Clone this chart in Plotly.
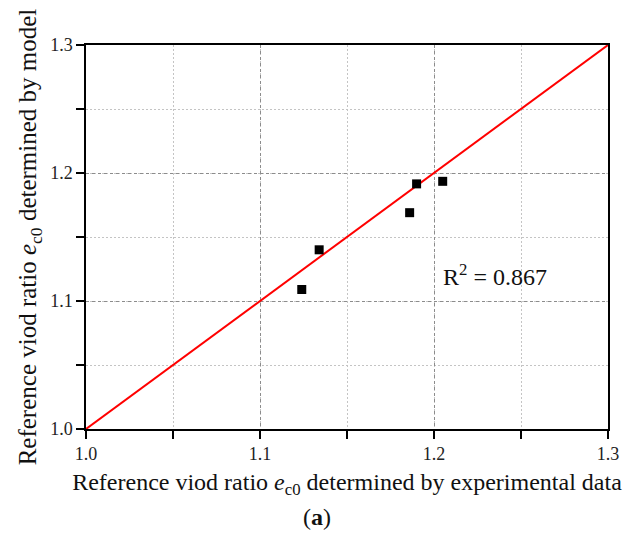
import plotly.graph_objects as go

exp_vals = [1.124, 1.134, 1.186, 1.190, 1.205]
model_vals = [1.109, 1.140, 1.169, 1.1915, 1.1935]
line_x = [1.0, 1.3]
line_y = [1.0, 1.3]
r2_text = "R<sup>2</sup> = 0.867"
tick_vals = [1.0, 1.1, 1.2, 1.3]
tick_text = ["1.0", "1.1", "1.2", "1.3"]

font = "Liberation Serif, Times New Roman, serif"

fig = go.Figure()
fig.add_trace(go.Scatter(x=line_x, y=line_y, mode="lines",
                         line=dict(color="#ff0000", width=2), showlegend=False))
fig.add_trace(go.Scatter(x=exp_vals, y=model_vals, mode="markers",
                         marker=dict(symbol="square", size=9, color="black"),
                         showlegend=False))

axis_common = dict(
    range=[1.0, 1.3], tickvals=tick_vals, ticktext=tick_text,
    showline=True, linecolor="black", linewidth=1.5, mirror=True,
    ticks="outside", ticklen=8, tickwidth=1.5, tickcolor="black",
    showgrid=True, gridcolor="#8c8c8c", gridwidth=1, griddash="3px,3px",
    minor=dict(dtick=0.05, tick0=1.0, showgrid=True, gridcolor="#c4c4c4",
               griddash="2px,2px", ticks="outside", ticklen=8, tickwidth=1.5,
               tickcolor="black"),
    zeroline=False,
    tickfont=dict(family=font, size=18, color="#222"),
)

fig.update_layout(
    width=631, height=540,
    margin=dict(l=86, r=21, t=45, b=111),
    plot_bgcolor="white", paper_bgcolor="white",
    xaxis=dict(**axis_common,
               title=dict(text="Reference viod ratio <i>e</i><sub>c0</sub> determined by experimental data",
                          font=dict(family=font, size=24, color="#111"), standoff=10)),
    yaxis=dict(**axis_common,
               title=dict(text="Reference viod ratio <i>e</i><sub>c0</sub> determined by model",
                          font=dict(family=font, size=25, color="#111"), standoff=6)),
    annotations=[
        dict(x=1.235, y=1.12, xref="x", yref="y", text=r2_text, showarrow=False,
             xanchor="center", yanchor="middle",
             font=dict(family=font, size=24, color="#111")),
        dict(x=0.443, y=-0.229, xref="paper", yref="paper", text="(<b>a</b>)",
             xanchor="center", yanchor="middle",
             showarrow=False, font=dict(family=font, size=24, color="#111")),
    ],
)

fig.write_html("out.html")
